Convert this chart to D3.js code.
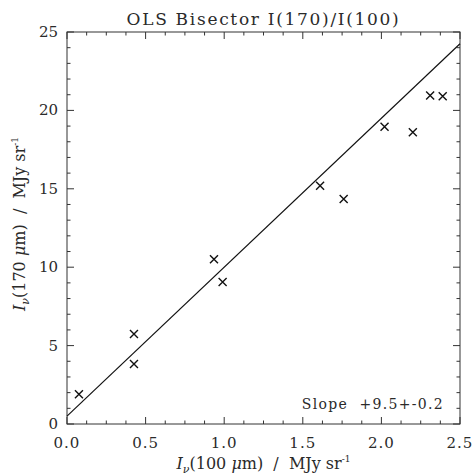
<!DOCTYPE html>
<html>
<head>
<meta charset="utf-8">
<script src="https://cdn.jsdelivr.net/npm/d3@7"></script>
<style>
  body { margin: 0; background: #fff; }
  text { font-family: "DejaVu Serif", "Liberation Serif", serif; fill: #2a2a2a; }
</style>
</head>
<body>
<div id="chart"></div>
<script>
// data
const xVals = [0.076, 0.426, 0.426, 0.935, 0.99, 1.61, 1.76, 2.02, 2.20, 2.31, 2.39];
const yVals = [1.9, 5.74, 3.83, 10.5, 9.05, 15.2, 14.35, 18.95, 18.6, 20.95, 20.9];
const fitSlope = 9.5;
const fitIntercept = 0.5;
const xTicks = [0, 0.5, 1.0, 1.5, 2.0, 2.5];
const yTicks = [0, 5, 10, 15, 20, 25];

const width = 474, height = 475;
const margin = {top: 32, right: 14, bottom: 51, left: 67};

const svg = d3.select("#chart").append("svg")
    .attr("width", width)
    .attr("height", height);

const x = d3.scaleLinear().domain([0, 2.5]).range([margin.left, width - margin.right]);
const y = d3.scaleLinear().domain([0, 25]).range([height - margin.bottom, margin.top]);

// frame
svg.append("rect")
    .attr("x", x(0)).attr("y", y(25))
    .attr("width", x(2.5) - x(0)).attr("height", y(0) - y(25))
    .attr("fill", "none").attr("stroke", "#333").attr("stroke-width", 1);

// inward ticks, all four sides
const xMinor = d3.range(0, 2.5001, 0.125);
const yMinor = d3.range(0, 25.001, 1);
const isMajor = (v, step) => Math.abs(v / step - Math.round(v / step)) < 1e-6;

const ticks = svg.append("g").attr("stroke", "#333").attr("stroke-width", 1);
xMinor.forEach(v => {
  const len = isMajor(v, 0.5) ? 7 : 3.5;
  ticks.append("line").attr("x1", x(v)).attr("x2", x(v)).attr("y1", y(0)).attr("y2", y(0) - len);
  ticks.append("line").attr("x1", x(v)).attr("x2", x(v)).attr("y1", y(25)).attr("y2", y(25) + len);
});
yMinor.forEach(v => {
  const len = isMajor(v, 5) ? 7 : 3.5;
  ticks.append("line").attr("y1", y(v)).attr("y2", y(v)).attr("x1", x(0)).attr("x2", x(0) + len);
  ticks.append("line").attr("y1", y(v)).attr("y2", y(v)).attr("x1", x(2.5)).attr("x2", x(2.5) - len);
});

// tick labels
svg.append("g").selectAll("text").data(xTicks).join("text")
    .attr("x", d => x(d)).attr("y", y(0) + 24)
    .attr("text-anchor", "middle").attr("font-size", 15)
    .attr("letter-spacing", 1)
    .text(d => d.toFixed(1));
svg.append("g").selectAll("text").data(yTicks).join("text")
    .attr("x", x(0) - 9).attr("y", d => y(d) + 5)
    .attr("text-anchor", "end").attr("font-size", 15)
    .text(d => d);

// fit line
const line = d3.line().x(d => x(d)).y(d => y(fitIntercept + fitSlope * d));
svg.append("path")
    .datum([0, 2.5])
    .attr("d", line)
    .attr("fill", "none").attr("stroke", "#111").attr("stroke-width", 1.2);

// crosses
const pts = xVals.map((v, i) => [v, yVals[i]]);
const s = 4;
svg.append("g").selectAll("path").data(pts).join("path")
    .attr("d", d => {
      const cx = x(d[0]), cy = y(d[1]);
      return `M${cx - s},${cy - s}L${cx + s},${cy + s}M${cx - s},${cy + s}L${cx + s},${cy - s}`;
    })
    .attr("stroke", "#111").attr("stroke-width", 1.4).attr("fill", "none");

// title
svg.append("text")
    .attr("x", (x(0) + x(2.5)) / 2).attr("y", 25)
    .attr("text-anchor", "middle").attr("font-size", 17)
    .attr("letter-spacing", 1.7)
    .text("OLS Bisector I(170)/I(100)");

// slope annotation
svg.append("text")
    .attr("x", 444).attr("y", 409)
    .attr("text-anchor", "end").attr("font-size", 14)
    .attr("letter-spacing", 1.3)
    .attr("xml:space", "preserve")
    .text("Slope  +9.5+-0.2");

// axis titles
function axisTitle(g, num) {
  g.append("tspan").attr("font-style", "italic").text("I");
  g.append("tspan").attr("font-style", "italic").attr("font-size", 11).attr("dy", 4).text("ν");
  g.append("tspan").attr("dy", -4).text("(" + num + " ");
  g.append("tspan").attr("font-style", "italic").text("μ");
  g.append("tspan").text("m)  /  MJy sr");
  g.append("tspan").attr("font-size", 9).attr("dy", -7).text("-1");
}
const xt = svg.append("text")
    .attr("x", (x(0) + x(2.5)) / 2).attr("y", 469)
    .attr("text-anchor", "middle").attr("font-size", 16)
    .attr("xml:space", "preserve");
axisTitle(xt, "100");

const yt = svg.append("text")
    .attr("transform", `translate(25,${(y(0) + y(25)) / 2 - 4}) rotate(-90)`)
    .attr("text-anchor", "middle").attr("font-size", 16)
    .attr("xml:space", "preserve");
axisTitle(yt, "170");
</script>
</body>
</html>
